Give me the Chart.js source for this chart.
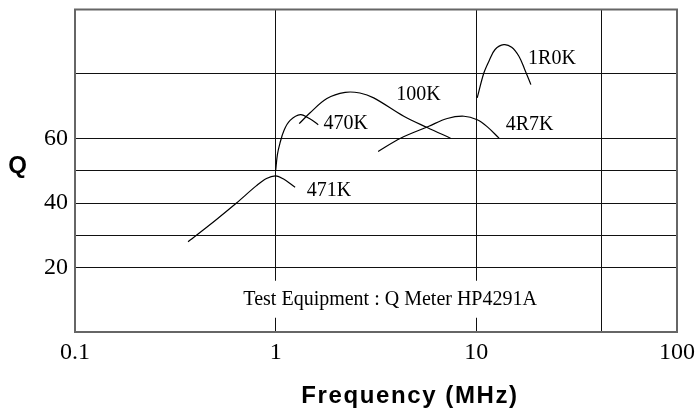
<!DOCTYPE html>
<html>
<head>
<meta charset="utf-8">
<script src="https://cdn.jsdelivr.net/npm/chart.js@4.4.1/dist/chart.umd.min.js"></script>
<style>
  body { margin: 0; background: #fff; }
  canvas { display: block; }
</style>
</head>
<body>
<canvas id="idCanvas" width="698" height="413"></canvas>
<script>
// frequency in MHz, Q values
const f471K = [0.366, 0.5, 0.638, 0.8, 0.9, 1.0, 1.09, 1.25];
const q471K = [28, 34.6, 40, 45.3, 47.6, 48.4, 47.5, 44.9];

const f470K = [1.0, 1.02, 1.05, 1.1, 1.18, 1.33, 1.48, 1.63];
const q470K = [50, 55, 58.5, 62.5, 65.6, 67.4, 66.1, 64.3];

const f100K = [1.31, 1.48, 1.8, 2.22, 2.63, 3.08, 4.35, 5.69, 7.44];
const q100K = [64.6, 67.9, 72.4, 74.3, 74.1, 72.6, 66.9, 63.4, 60.1];

const f4R7K = [3.24, 4.19, 5.8, 7.16, 8.68, 10.1, 11.35, 12.98];
const q4R7K = [56, 60.1, 63.8, 66.2, 66.9, 65.8, 63.6, 60.1];

const f1R0K = [10.1, 10.9, 11.6, 12.4, 13.7, 15.0, 16.3, 17.4, 18.7];
const q1R0K = [72.6, 80.3, 84.2, 87.6, 89.1, 88.3, 85.5, 81.5, 76.7];

const xTicks = [0.1, 1, 10, 42, 100];
const xLabels = ['0.1', '1', '10', '', '100'];
const yTicks = [0, 20, 30, 40, 50, 60, 80, 100];
const yLabeled = [20, 40, 60];

const curveNames = ['471K', '470K', '100K', '4R7K', '1R0K'];
const nameFreq = [1.43, 1.73, 3.99, 14.0, 18.1];
const nameQ = [43.9, 64.5, 73.6, 64.3, 84.8];

const noteText = 'Test Equipment : Q Meter HP4291A';
const noteFreq = 3.72;
const noteQ = 10;

function pts(fs, qs) {
    return fs.map((f, i) => ({ x: f, y: qs[i] }));
}

function serie(fs, qs) {
    return {
        data: pts(fs, qs),
        borderColor: '#000',
        borderWidth: 1.2,
        pointRadius: 0,
        fill: false,
        tension: 0.35
    };
}

const textPlugin = {
    id: 'testi',
    afterDraw(chart) {
        const ctx = chart.ctx;
        const x = chart.scales.x, y = chart.scales.y;
        const a = chart.chartArea;
        ctx.save();

        // frame
        ctx.strokeStyle = '#666';
        ctx.lineWidth = 2;
        ctx.strokeRect(a.left, a.top, a.right - a.left, a.bottom - a.top);

        // curve names
        ctx.fillStyle = '#000';
        ctx.font = '20px "Liberation Serif", "Times New Roman", serif';
        ctx.textAlign = 'left';
        ctx.textBaseline = 'middle';
        curveNames.forEach((n, i) => {
            ctx.fillText(n, x.getPixelForValue(nameFreq[i]), y.getPixelForValue(nameQ[i]));
        });

        // note with white box
        const nx = x.getPixelForValue(noteFreq), ny = y.getPixelForValue(noteQ);
        const w = ctx.measureText(noteText).width;
        ctx.fillStyle = '#fff';
        ctx.fillRect(nx - w / 2 - 12, ny - 19, w + 24, 37);
        ctx.fillStyle = '#000';
        ctx.textAlign = 'center';
        ctx.fillText(noteText, nx, ny);

        // axis titles
        ctx.font = 'bold 24px "Liberation Sans", Arial, sans-serif';
        ctx.textBaseline = 'alphabetic';
        ctx.fillText('Q', 17.5, 173);
        ctx.letterSpacing = '1.6px';
        ctx.fillText('Frequency (MHz)', 410, 403);
        ctx.restore();
    }
};

let ctx = document.getElementById('idCanvas').getContext('2d');
let myChart = new Chart(ctx, {
    type: 'line',
    data: {
        datasets: [
            serie(f471K, q471K),
            serie(f470K, q470K),
            serie(f100K, q100K),
            serie(f4R7K, q4R7K),
            serie(f1R0K, q1R0K)
        ]
    },
    options: {
        responsive: false,
        devicePixelRatio: 1,
        animation: false,
        layout: { padding: { top: 9.5, right: 21, left: 0, bottom: 0 } },
        plugins: { legend: { display: false }, tooltip: { enabled: false } },
        scales: {
            x: {
                type: 'logarithmic',
                min: 0.1,
                max: 100,
                afterBuildTicks: s => { s.ticks = xTicks.map(v => ({ value: v })); },
                afterFit: s => {
                    s.height = 81;
                    s.paddingLeft = 0;
                    s.paddingRight = 0;
                },
                border: { display: false },
                grid: {
                    drawTicks: false,
                    color: c => (c.tick && c.tick.value > 0.1 && c.tick.value < 100) ? '#111' : 'rgba(0,0,0,0)',
                    lineWidth: 1
                },
                ticks: {
                    padding: 6,
                    color: '#000',
                    maxRotation: 0,
                    autoSkip: false,
                    font: { family: '"Liberation Serif", "Times New Roman", serif', size: 24 },
                    callback: (v) => {
                        const i = xTicks.indexOf(v);
                        return i >= 0 ? xLabels[i] : '';
                    }
                }
            },
            y: {
                min: 0,
                max: 100,
                afterBuildTicks: s => { s.ticks = yTicks.map(v => ({ value: v })); },
                afterFit: s => {
                    s.width = 75;
                    s.paddingTop = 0;
                    s.paddingBottom = 0;
                },
                border: { display: false },
                grid: {
                    drawTicks: false,
                    color: c => (c.tick && c.tick.value > 0 && c.tick.value < 100) ? '#111' : 'rgba(0,0,0,0)',
                    lineWidth: 1
                },
                ticks: {
                    padding: 7,
                    color: '#000',
                    autoSkip: false,
                    font: { family: '"Liberation Serif", "Times New Roman", serif', size: 24 },
                    callback: (v) => yLabeled.includes(v) ? String(v) : ''
                }
            }
        }
    },
    plugins: [textPlugin]
});
</script>
</body>
</html>
